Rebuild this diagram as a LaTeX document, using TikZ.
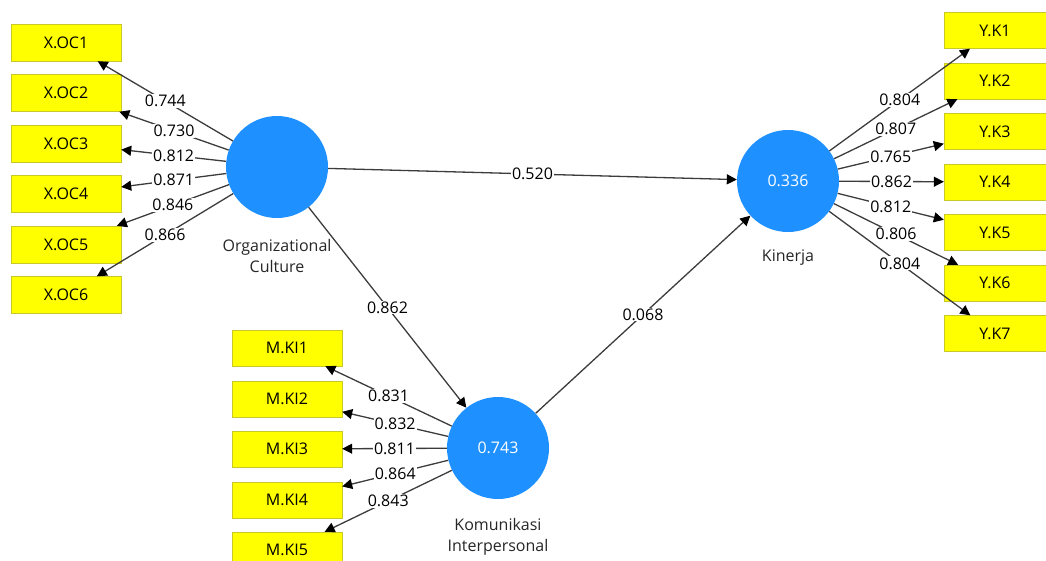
\documentclass[tikz,border=0pt]{standalone}
\usepackage{fontspec}
\setmainfont{Open Sans}
\usetikzlibrary{arrows.meta}

\definecolor{lvblue}{RGB}{30,144,255}
\definecolor{mvyellow}{RGB}{255,255,0}
\definecolor{mvedge}{RGB}{200,200,40}
\definecolor{linegray}{RGB}{60,60,60}

\tikzset{
  lv/.style={circle,fill=lvblue,minimum size=102pt,inner sep=0pt,text=white},
  mv/.style={rectangle,draw=mvedge,fill=mvyellow,minimum width=110pt,minimum height=37pt,inner sep=0pt},
  lnk/.style={draw=linegray,line width=1.3pt,-{Triangle[length=10pt,width=10pt,color=black]}},
  wt/.style={fill=white,inner sep=1pt,text=black},
  lvname/.style={align=center,text=black!85}
}

\begin{document}
\begin{tikzpicture}[x=1pt,y=-1pt,font=\fontsize{16}{21}\selectfont]
        \useasboundingbox (0,0) rectangle (1046,560);
        % latent variables
        \node[lv] (oc) at (277,167) {};
        \node[lv] (kin) at (788,181) {0.336};
        \node[lv] (kom) at (498,448) {0.743};
        \node[lvname] (ocname) at (277,256) {Organizational\\Culture};
        \node[lvname] (kinname) at (788,258) {Kinerja};
        \node[lvname] (komname) at (498,537) {Komunikasi\\Interpersonal};

        % indicators of Organizational Culture
        \node[mv] (xoc1) at (66,42.5) {X.OC1};
        \node[mv] (xoc2) at (66,93) {X.OC2};
        \node[mv] (xoc3) at (66,143.5) {X.OC3};
        \node[mv] (xoc4) at (66,194) {X.OC4};
        \node[mv] (xoc5) at (66,244.5) {X.OC5};
        \node[mv] (xoc6) at (66,295) {X.OC6};

        % indicators of Kinerja
        \node[mv,minimum width=102pt,minimum height=36pt] (yk1) at (995,30.5) {Y.K1};
        \node[mv,minimum width=102pt,minimum height=36pt] (yk2) at (995,81) {Y.K2};
        \node[mv,minimum width=102pt,minimum height=36pt] (yk3) at (995,131.5) {Y.K3};
        \node[mv,minimum width=102pt,minimum height=36pt] (yk4) at (995,182) {Y.K4};
        \node[mv,minimum width=102pt,minimum height=36pt] (yk5) at (995,232.5) {Y.K5};
        \node[mv,minimum width=102pt,minimum height=36pt] (yk6) at (995,283) {Y.K6};
        \node[mv,minimum width=102pt,minimum height=36pt] (yk7) at (995,333.5) {Y.K7};

        % indicators of Komunikasi Interpersonal
        \node[mv,minimum height=36pt] (mki1) at (287,348) {M.KI1};
        \node[mv,minimum height=36pt] (mki2) at (287,399) {M.KI2};
        \node[mv,minimum height=36pt] (mki3) at (287,449) {M.KI3};
        \node[mv,minimum height=36pt] (mki4) at (287,500) {M.KI4};
        \node[mv,minimum height=36pt] (mki5) at (287,550) {M.KI5};

        % outer loadings
        \draw[lnk] (oc) -- node[wt]{0.744} (xoc1);
        \draw[lnk] (oc) -- node[wt]{0.730} (xoc2);
        \draw[lnk] (oc) -- node[wt]{0.812} (xoc3);
        \draw[lnk] (oc) -- node[wt]{0.871} (xoc4);
        \draw[lnk] (oc) -- node[wt]{0.846} (xoc5);
        \draw[lnk] (oc) -- node[wt]{0.866} (xoc6);

        \draw[lnk] (kin) -- node[wt]{0.804} (yk1);
        \draw[lnk] (kin) -- node[wt]{0.807} (yk2);
        \draw[lnk] (kin) -- node[wt]{0.765} (yk3);
        \draw[lnk] (kin) -- node[wt]{0.862} (yk4);
        \draw[lnk] (kin) -- node[wt]{0.812} (yk5);
        \draw[lnk] (kin) -- node[wt]{0.806} (yk6);
        \draw[lnk] (kin) -- node[wt]{0.804} (yk7);

        \draw[lnk] (kom) -- node[wt]{0.831} (mki1);
        \draw[lnk] (kom) -- node[wt]{0.832} (mki2);
        \draw[lnk] (kom) -- node[wt]{0.811} (mki3);
        \draw[lnk] (kom) -- node[wt]{0.864} (mki4);
        \draw[lnk] (kom) -- node[wt]{0.843} (mki5);

        % path coefficients
        \draw[lnk] (oc) -- node[wt]{0.520} (kin);
        \draw[lnk] (oc) -- node[wt]{0.862} (kom);
        \draw[lnk] (kom) -- node[wt]{0.068} (kin);
\end{tikzpicture}
\end{document}
